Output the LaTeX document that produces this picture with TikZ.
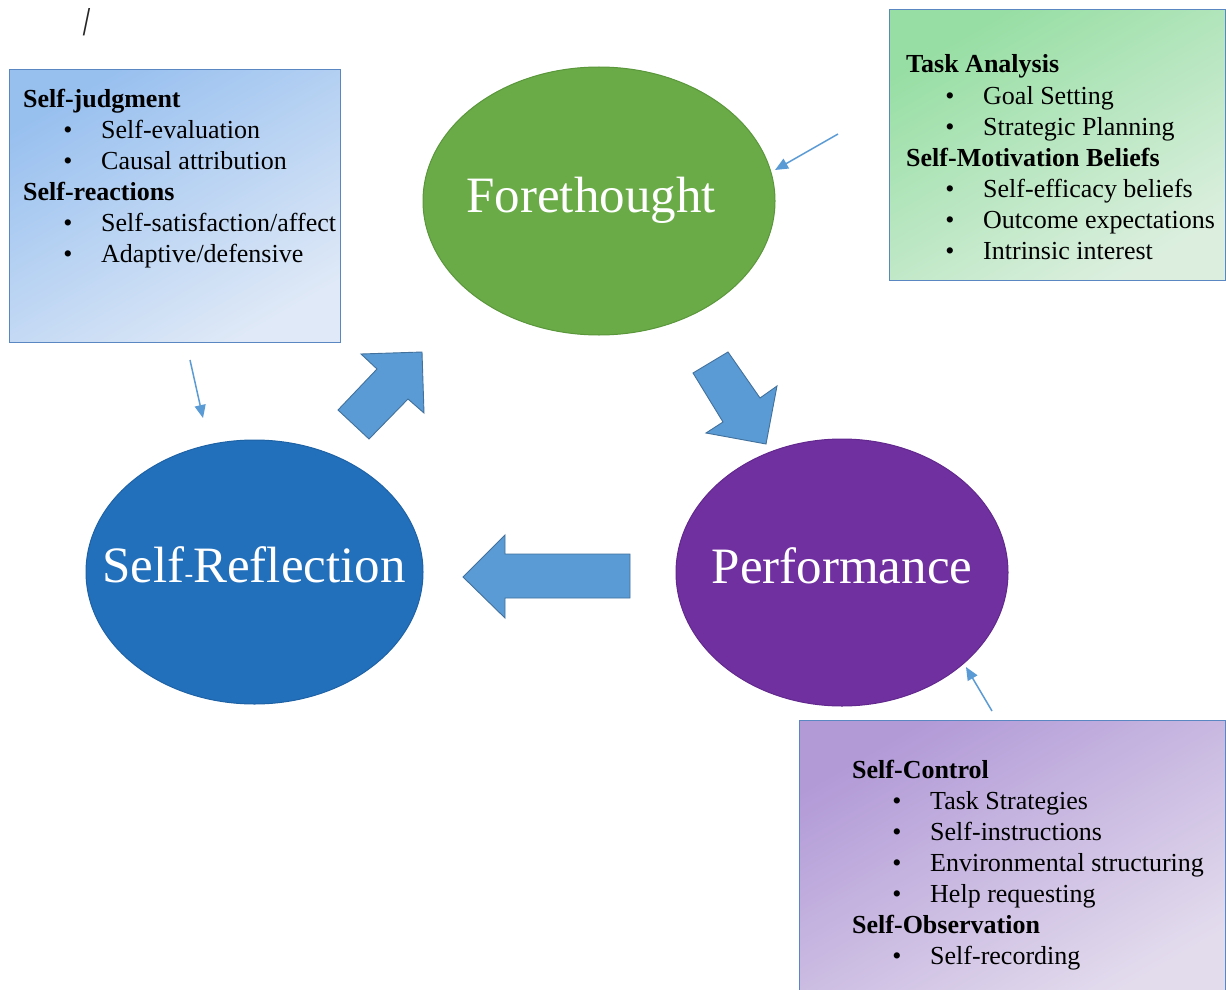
\documentclass[tikz,border=0pt]{standalone}
\usepackage{fontspec}
\setmainfont{Liberation Serif}
\usetikzlibrary{arrows.meta,shapes.geometric}
\definecolor{boxedge}{HTML}{5A87C2}
\definecolor{bluedark}{HTML}{98C0EF}
\definecolor{bluelight}{HTML}{DFE9F7}
\definecolor{greendark}{HTML}{96DEA3}
\definecolor{greenlight}{HTML}{DCEFDF}
\definecolor{purpledark}{HTML}{B29AD7}
\definecolor{purplelight}{HTML}{E3DCED}
\definecolor{forefill}{HTML}{6AAB47}
\definecolor{foreedge}{HTML}{5A973B}
\definecolor{reffill}{HTML}{2270BC}
\definecolor{refedge}{HTML}{1E62A6}
\definecolor{perffill}{HTML}{7030A0}
\definecolor{perfedge}{HTML}{62288E}
\definecolor{arrowfill}{HTML}{5B9BD5}
\definecolor{arrowedge}{HTML}{41719C}
\definecolor{thinblue}{HTML}{5B9BD5}
\begin{document}
\begin{tikzpicture}[x=1pt,y=-1pt,
  infobox/.style={draw=boxedge, line width=1.1pt, rectangle, anchor=north west, inner sep=0pt},
  phase/.style={ellipse, line width=1pt, inner sep=0pt},
  blockarrow/.style={fill=arrowfill, draw=arrowedge, line width=0.9pt, line join=miter},
  thinarrow/.style={draw=thinblue, line width=1.5pt, -{Triangle[length=13pt,width=11pt]}},
  bigtext/.style={font=\fontsize{51}{60}\selectfont, text=white, anchor=base, inner sep=0pt},
  headtext/.style={font=\fontsize{26}{31}\selectfont\bfseries, anchor=base west, inner sep=0pt},
  itemtext/.style={font=\fontsize{26}{31}\selectfont, anchor=base west, inner sep=0pt},
  bullettext/.style={font=\fontsize{26}{31}\selectfont, anchor=base, inner sep=0pt}]
\useasboundingbox (0,0) rectangle (1226,990);
\fill[white] (0,0) rectangle (1226,990);

% stray slash
\node[font=\fontsize{41}{41}\selectfont\bfseries, xscale=0.6, text=black!85, inner sep=0pt] (slash) at (87,22) {/};

% info boxes
\node[infobox, minimum width=331pt, minimum height=273pt, top color=bluedark, bottom color=bluelight, shading angle=30] (sjbox) at (9,69) {};
\node[infobox, minimum width=336pt, minimum height=271pt, top color=greendark, bottom color=greenlight, shading angle=30] (fbox) at (889,9) {};
\node[infobox, minimum width=426pt, minimum height=280pt, top color=purpledark, bottom color=purplelight, shading angle=30] (pbox) at (799,720) {};

% texts of blue box
\node[headtext] (sj1) at (23,107) {Self-judgment};
\node[bullettext] (sjb1) at (68,138) {•}; \node[itemtext] (sj2) at (101,138) {Self-evaluation};
\node[bullettext] (sjb2) at (68,169) {•}; \node[itemtext] (sj3) at (101,169) {Causal attribution};
\node[headtext] (sj4) at (23,200) {Self-reactions};
\node[bullettext] (sjb3) at (68,231) {•}; \node[itemtext] (sj5) at (101,231) {Self-satisfaction/affect};
\node[bullettext] (sjb4) at (68,262) {•}; \node[itemtext] (sj6) at (101,262) {Adaptive/defensive};

% texts of green box
\node[headtext] (f1) at (906,73) {Task Analysis};
\node[bullettext] (fb1) at (950,104) {•}; \node[itemtext] (f2) at (983,104) {Goal Setting};
\node[bullettext] (fb2) at (950,135) {•}; \node[itemtext] (f3) at (983,135) {Strategic Planning};
\node[headtext] (f4) at (906,166) {Self-Motivation Beliefs};
\node[bullettext] (fb3) at (950,197) {•}; \node[itemtext] (f5) at (983,197) {Self-efficacy beliefs};
\node[bullettext] (fb4) at (950,228) {•}; \node[itemtext] (f6) at (983,228) {Outcome expectations};
\node[bullettext] (fb5) at (950,259) {•}; \node[itemtext] (f7) at (983,259) {Intrinsic interest};

% texts of purple box
\node[headtext] (p1) at (852,778) {Self-Control};
\node[bullettext] (pb1) at (897,809) {•}; \node[itemtext] (p2) at (930,809) {Task Strategies};
\node[bullettext] (pb2) at (897,840) {•}; \node[itemtext] (p3) at (930,840) {Self-instructions};
\node[bullettext] (pb3) at (897,871) {•}; \node[itemtext] (p4) at (930,871) {Environmental structuring};
\node[bullettext] (pb4) at (897,902) {•}; \node[itemtext] (p5) at (930,902) {Help requesting};
\node[headtext] (p6) at (852,933) {Self-Observation};
\node[bullettext] (pb5) at (897,964) {•}; \node[itemtext] (p7) at (930,964) {Self-recording};

% phase ellipses
\node[phase, minimum width=352pt, minimum height=268pt, fill=forefill, draw=foreedge] (fore) at (599,201) {};
\node[phase, minimum width=337pt, minimum height=264pt, fill=reffill, draw=refedge] (refl) at (254.5,572) {};
\node[phase, minimum width=332pt, minimum height=267pt, fill=perffill, draw=perfedge] (perf) at (842,572.5) {};

\node[bigtext] (foretext) at (591,212) {Forethought};
\node[bigtext] (refltext) at (254,582) {Self{\fontsize{26}{26}\selectfont -}Reflection};
\node[bigtext] (perftext) at (842,583) {Performance};

% block arrows
\draw[blockarrow] (338,410) -- (377,369) -- (361,354) -- (422,352) -- (424,413) -- (408,399) -- (369,439) -- cycle;
\draw[blockarrow] (693,373) -- (728,352) -- (760,398) -- (777,386) -- (766,444) -- (706,433) -- (723,422) -- cycle;
\draw[blockarrow] (463,577) -- (505,535) -- (505,554) -- (630,554) -- (630,598) -- (505,598) -- (505,618) -- cycle;

% thin pointer arrows
\coordinate (fs) at (838,134); \coordinate (fe) at (775,170);
\coordinate (rs) at (190,360); \coordinate (re) at (203,418);
\coordinate (ps) at (992,711); \coordinate (pe) at (966,667);
\draw[thinarrow] (fs) -- (fe);
\draw[thinarrow] (rs) -- (re);
\draw[thinarrow] (ps) -- (pe);
\end{tikzpicture}
\end{document}
